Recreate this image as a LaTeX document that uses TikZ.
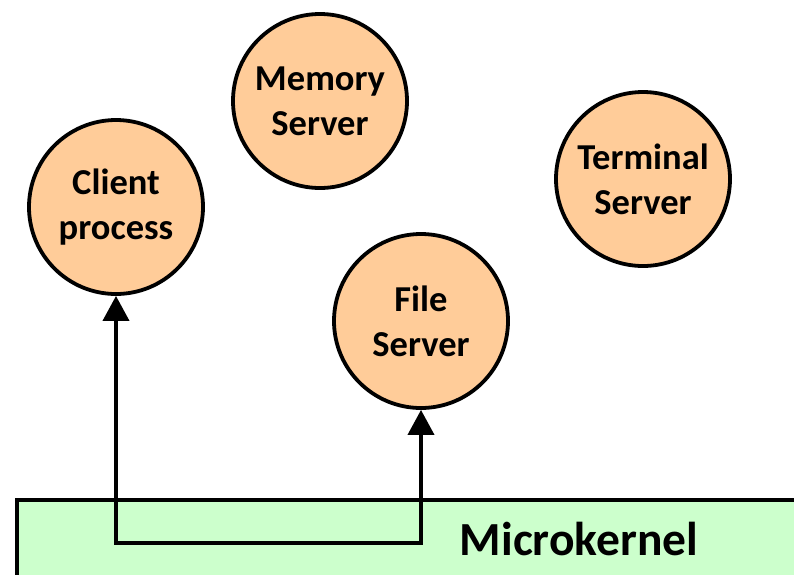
\documentclass[tikz,border=0pt]{standalone}
\usepackage{fontspec}
\setmainfont{Carlito}
\usetikzlibrary{arrows.meta}
\definecolor{peach}{HTML}{FFCC99}
\definecolor{kernelgreen}{HTML}{CCFFCC}
\tikzset{
  proc/.style={circle, draw=black, line width=3.8pt, fill=peach,
    minimum size=174pt, inner sep=0pt, align=center,
    font=\fontsize{36.5}{45}\selectfont\bfseries},
  link/.style={line width=3.8pt, {Triangle[length=25pt,width=26pt]}-{Triangle[length=25pt,width=26pt]}}
}
\begin{document}
\begin{tikzpicture}[x=1pt,y=-1pt]
  \useasboundingbox (0,0) rectangle (794,574);
  \clip (0,0) rectangle (794,574);
  % kernel band along the bottom
  \node[draw=black, line width=3.5pt, fill=kernelgreen, anchor=north west,
        minimum width=820pt, minimum height=120pt, inner sep=0pt] (band) at (15,498) {};
  \node[font=\fontsize{47.5}{50}\selectfont\bfseries] (kernel) at (579,539) {Microkernel};
  % user-level processes
  \node[proc] (client) at (116,207) {Client\\process};
  \node[proc] (memory) at (320,101) {Memory\\Server};
  \node[proc] (terminal) at (643,179) {Terminal\\Server};
  \node[proc] (file) at (421,321) {File\\Server};
  % message path through the kernel
  \coordinate (route) at (0,543);
  \draw[link] (client.south) -- (client.south |- route) -| (file.south);
\end{tikzpicture}
\end{document}
